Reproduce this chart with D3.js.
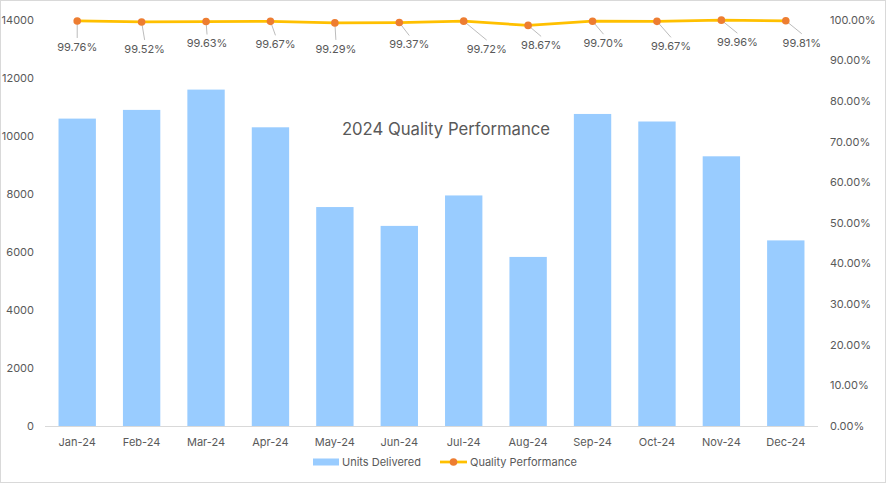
<!DOCTYPE html>
<html>
<head>
<meta charset="utf-8">
<script src="https://cdn.jsdelivr.net/npm/d3@7.9.0/dist/d3.min.js"></script>
<style>
  body { margin: 0; background: #fff; }
  svg text { font-family: "Inter", "Noto Sans", sans-serif; fill: #595959; }
</style>
</head>
<body>
<svg id="chart" width="886" height="483"></svg>
<script>
const months = ["Jan-24", "Feb-24", "Mar-24", "Apr-24", "May-24", "Jun-24",
  "Jul-24", "Aug-24", "Sep-24", "Oct-24", "Nov-24", "Dec-24"];
const unitsDelivered = [10600, 10900, 11600, 10300, 7550, 6900, 7950, 5830, 10760, 10500, 9300, 6400];
const quality = [0.9976, 0.9952, 0.9963, 0.9967, 0.9929, 0.9937, 0.9972, 0.9867, 0.9970, 0.9967, 0.9996, 0.9981];
const leftTicks = [0, 2000, 4000, 6000, 8000, 10000, 12000, 14000];
const rightTicks = [0, 0.1, 0.2, 0.3, 0.4, 0.5, 0.6, 0.7, 0.8, 0.9, 1.0];
// label placement relative to each point (dx, dy)
const labelOffsets = [[0, 26], [3, 27], [1, 22], [5, 23], [1, 26], [10, 22],
  [23, 28], [13, 20], [11, 22], [14, 25], [16, 22], [16, 22]];

const svg = d3.select("#chart");
const margin = { left: 45, right: 68, top: 20, bottom: 57 };
const W = 886, H = 483;
const x0 = margin.left, x1 = W - margin.right, yTop = margin.top, yBot = H - margin.bottom;
const fs = 11;

svg.append("rect").attr("x", 0.5).attr("y", 0.5).attr("width", W - 1).attr("height", H - 1)
  .attr("fill", "#fff").attr("stroke", "#d9d9d9");

let x = d3.scaleBand().domain(months).range([x0, x1]).paddingInner(0.42).paddingOuter(0.21);
let yL = d3.scaleLinear().domain([0, 14000]).range([yBot, yTop]);
let yR = d3.scaleLinear().domain([0, 1]).range([yBot, yTop]);

// bars
svg.append("g").selectAll("rect").data(unitsDelivered).join("rect")
  .attr("x", (d, i) => x(months[i]))
  .attr("width", x.bandwidth())
  .attr("y", d => yL(d))
  .attr("height", d => yBot - yL(d))
  .attr("fill", "#99CCFF");

// baseline
svg.append("line").attr("x1", x0).attr("x2", x1).attr("y1", yBot + 0.5).attr("y2", yBot + 0.5)
  .attr("stroke", "#d9d9d9");

// left axis labels
svg.append("g").selectAll("text").data(leftTicks).join("text")
  .attr("x", 34).attr("y", d => yL(d)).attr("dy", "0.35em")
  .attr("text-anchor", "end").attr("font-size", fs).text(d => d);

// right axis labels
svg.append("g").selectAll("text").data(rightTicks).join("text")
  .attr("x", 830).attr("y", d => yR(d)).attr("dy", "0.35em")
  .attr("text-anchor", "start").attr("font-size", fs).text(d => d3.format(".2%")(d));

// x labels
svg.append("g").selectAll("text").data(months).join("text")
  .attr("x", d => x(d) + x.bandwidth() / 2).attr("y", yBot + 16).attr("dy", "0.35em")
  .attr("text-anchor", "middle").attr("font-size", fs).text(d => d);

// title
svg.append("text").attr("x", 446).attr("y", 129).attr("dy", "0.35em")
  .attr("text-anchor", "middle").attr("font-size", 16.7).text("2024 Quality Performance");

// quality line
const cx = i => x(months[i]) + x.bandwidth() / 2;
const line = d3.line().x((d, i) => cx(i)).y(d => yR(d));
svg.append("path").datum(quality).attr("d", line)
  .attr("fill", "none").attr("stroke", "#FFC000").attr("stroke-width", 2.75)
  .attr("stroke-linejoin", "round");

// leader lines + labels
quality.forEach((q, i) => {
  const px = cx(i), py = yR(q);
  const [dx, dy] = labelOffsets[i];
  svg.append("line").attr("x1", px).attr("y1", py)
    .attr("x2", px + dx).attr("y2", py + dy - 9)
    .attr("stroke", "#a6a6a6").attr("stroke-width", 0.75);
  svg.append("text").attr("x", px + dx).attr("y", py + dy).attr("dy", "0.35em")
    .attr("text-anchor", "middle").attr("font-size", fs).text(d3.format(".2%")(q));
});

svg.append("g").selectAll("circle").data(quality).join("circle")
  .attr("cx", (d, i) => cx(i)).attr("cy", d => yR(d)).attr("r", 3.8)
  .attr("fill", "#ED7D31");

// legend
const lg = svg.append("g");
lg.append("rect").attr("x", 313).attr("y", 458.5).attr("width", 26).attr("height", 7).attr("fill", "#99CCFF");
lg.append("text").attr("x", 342).attr("y", 462).attr("dy", "0.35em").attr("font-size", fs).text("Units Delivered");
lg.append("line").attr("x1", 440).attr("x2", 467).attr("y1", 462).attr("y2", 462)
  .attr("stroke", "#FFC000").attr("stroke-width", 2.75);
lg.append("circle").attr("cx", 453.5).attr("cy", 462).attr("r", 3.8).attr("fill", "#ED7D31");
lg.append("text").attr("x", 470).attr("y", 462).attr("dy", "0.35em").attr("font-size", fs).text("Quality Performance");
</script>
</body>
</html>
